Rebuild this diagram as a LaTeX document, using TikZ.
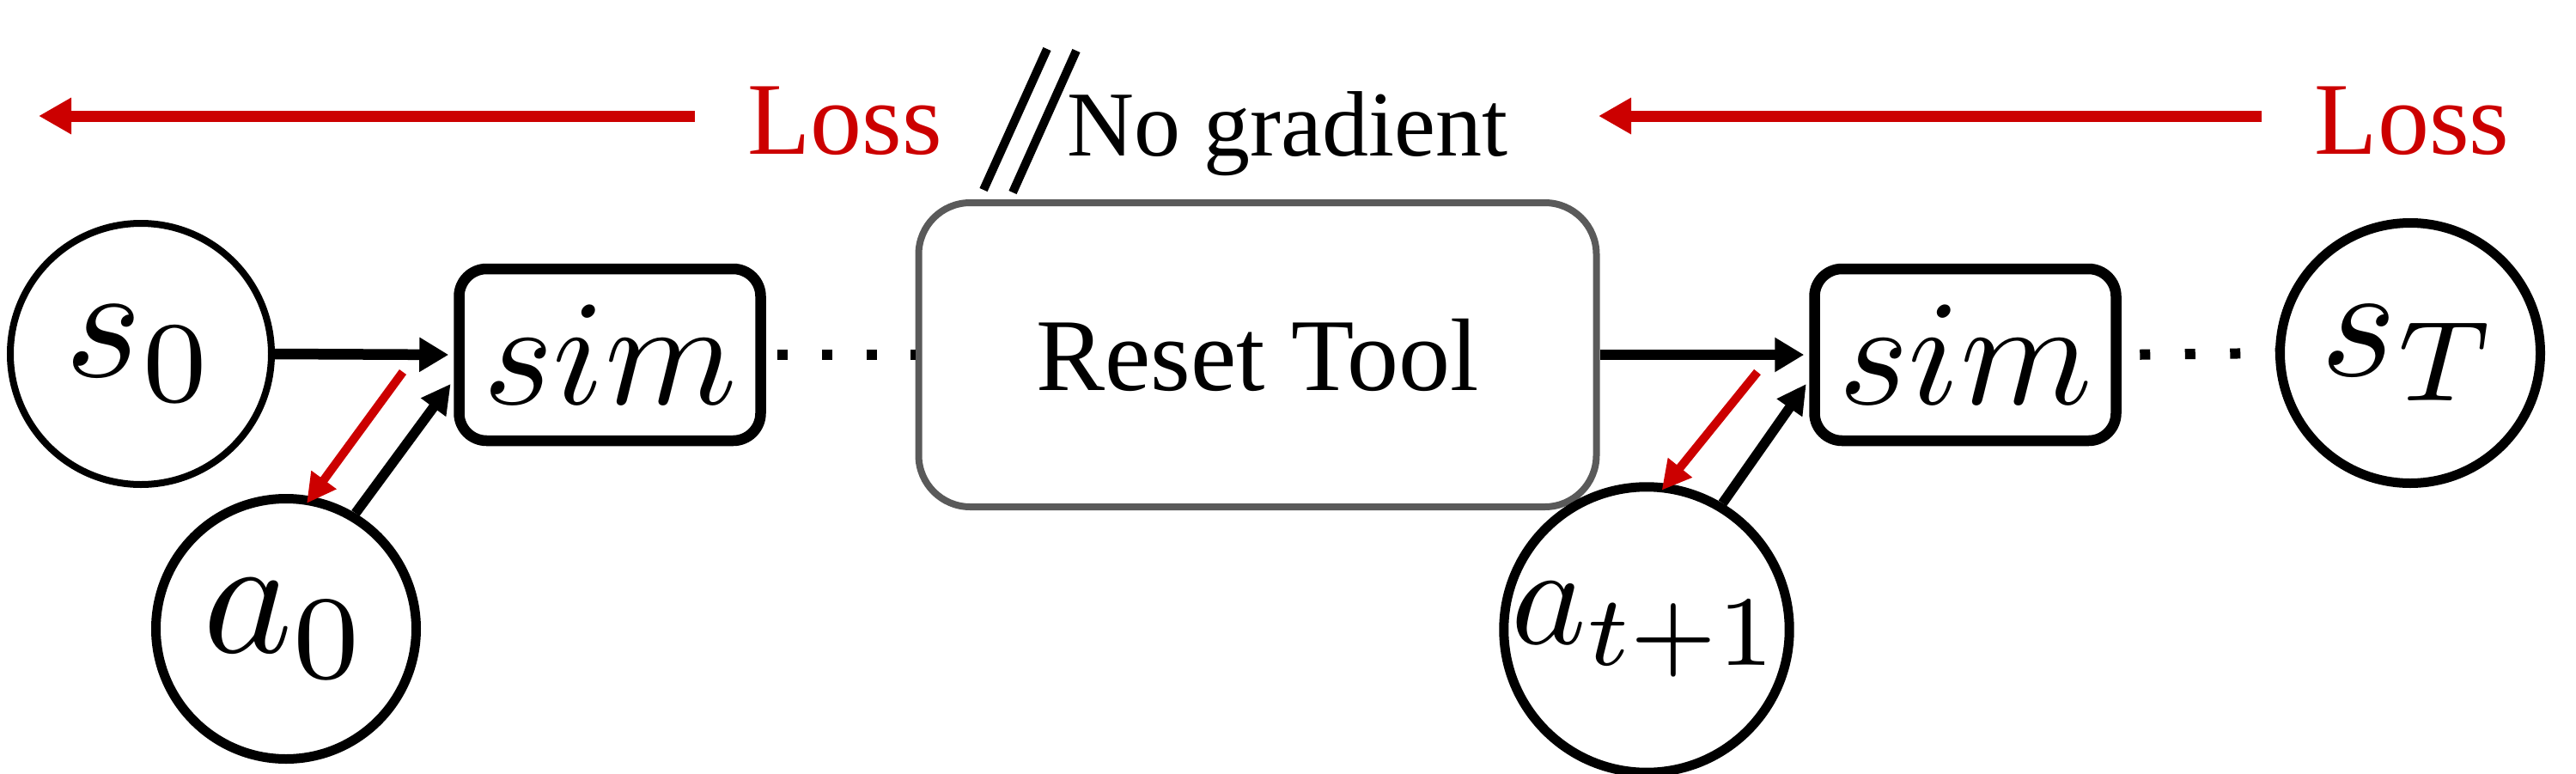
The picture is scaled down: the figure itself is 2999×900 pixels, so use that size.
\documentclass[tikz,border=0pt]{standalone}
\usepackage{graphicx}
\usepackage[no-math]{fontspec}
\newfontfamily\tnr{Liberation Serif}
\usetikzlibrary{arrows.meta}
\definecolor{lossred}{HTML}{CC0000}
\definecolor{boxgray}{HTML}{5A5A5A}
\newcommand{\mlabel}[2]{\scalebox{#1}{$#2$}}
\begin{document}
\begin{tikzpicture}[x=1pt,y=-1pt,
  stthin/.style={circle, draw, line width=8pt, minimum size=304pt, inner sep=0pt},
  stthick/.style={circle, draw, line width=11pt, minimum size=303pt, inner sep=0pt},
  simbox/.style={draw, rounded corners=32pt, line width=12.5pt, minimum width=351pt, minimum height=200pt, inner sep=0pt},
  resetbox/.style={draw=boxgray, rounded corners=60pt, line width=8pt, minimum width=789pt, minimum height=354pt, inner sep=0pt, font=\tnr\fontsize{120}{140}\selectfont},
  losstext/.style={text=lossred, inner sep=0pt, font=\tnr\fontsize{120}{140}\selectfont},
  fwd/.style={-{Triangle[length=34pt,width=38pt]}, line width=12.5pt, shorten >=6pt},
  diag/.style={-{Triangle[length=34pt,width=34pt]}, line width=11.5pt, shorten >=6pt},
  reddiag/.style={draw=lossred, -{Triangle[length=34pt,width=34pt]}, line width=10pt, shorten >=-10pt},
  lossarrow/.style={draw=lossred, line width=13pt, -{Triangle[length=38pt,width=40pt]}},
  dots/.style={line width=12pt}
]
\useasboundingbox (0,0) rectangle (2999,900);
% nodes
\node[stthin] (s0) at (164,412) {\mlabel{19.2}{s_0}};
\node[simbox] (sim1) at (710,413) {\mlabel{17.5}{sim}};
\node[stthick] (a0) at (333,732) {\mlabel{19.8}{a_0}};
\node[resetbox] (reset) at (1464,413) {Reset Tool};
\node[simbox] (sim2) at (2288,413) {\mlabel{17.5}{sim}};
\node[stthick] (a1) at (1917,733) {\mlabel{16.6}{a_{t+1}}};
\node[stthick] (sT) at (2806,411) {\mlabel{19}{s_T}};
% top texts
\node[losstext, anchor=base] (lossL) at (984,179) {Loss};
\node[losstext, anchor=base] (lossR) at (2808,179) {Loss};
\node[anchor=base west, inner sep=0pt, font=\tnr\fontsize{108}{130}\selectfont] (nograd) at (1242,181) {No gradient};
% loss arrows
\coordinate (lossLa) at (809,135);
\coordinate (lossLb) at (45,135);
\coordinate (lossRa) at (2633,135);
\coordinate (lossRb) at (1861,135);
\draw[lossarrow] (lossLa) -- (lossLb);
\draw[lossarrow] (lossRa) -- (lossRb);
% no gradient slashes
\draw[line width=10pt] (1145,221) -- (1219,57);
\draw[line width=10pt] (1179,224) -- (1253,59);
% forward arrows
\draw[fwd] (s0.east) -- (sim1.west);
\draw[fwd] (reset.east) -- (sim2.west);
\draw[diag] (a0.59) -- ([yshift=-29pt]sim1.west);
\draw[diag] (a1.59) -- ([yshift=-29pt]sim2.west);
% gradient arrows
\coordinate (r1) at (469,433);
\coordinate (r2) at (2046,433);
\draw[reddiag] (r1) -- (a0.79);
\draw[reddiag] (r2) -- (a1.82);
% dotted continuations
\draw[dots, dash pattern=on 12pt off 39.7pt, dash phase=38.2pt] (sim1.east) -- (reset.west);
\draw[dots, dash pattern=on 12pt off 40.5pt, dash phase=31pt] (sim2.east) -- (sT.west);
\end{tikzpicture}
\end{document}
